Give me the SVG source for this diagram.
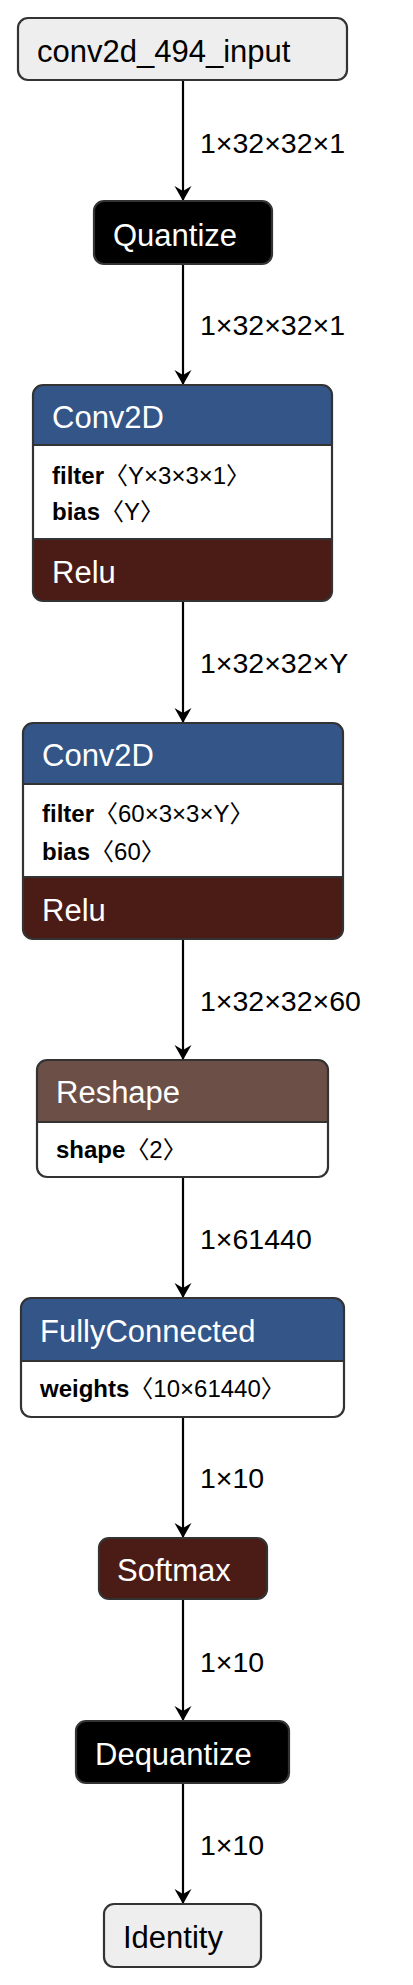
<svg xmlns="http://www.w3.org/2000/svg" width="413" height="1985" viewBox="0 0 413 1985">
<style>
text{font-family:"Liberation Sans","Noto Sans CJK SC",sans-serif}
.t{font-size:31px;fill:#fff}
.tk{font-size:31px;fill:#000}
.a{font-size:24px;fill:#000}
.a tspan.n{font-weight:bold}
.l{font-size:28.5px;fill:#000}
.o{fill:none;stroke:#333;stroke-width:2.2}
.s{stroke:#333;stroke-width:2.2}
.e{stroke:#000;stroke-width:2.2;fill:none;marker-end:url(#arr)}
.hl{fill:#335588}
.ac{fill:#4b1b16}
.sh{fill:#6c4f47}
</style>
<defs>
<marker id="arr" markerUnits="userSpaceOnUse" markerWidth="16" markerHeight="18" refX="15" refY="9" orient="auto">
<path d="M0,0.5 L15,9 L0,17.5 L5,9 Z" fill="#000"/>
</marker>
</defs>
<g id="edges">
<path class="e" d="M183,80 V201"/>
<text class="l" x="200" y="153">1×32×32×1</text>
<path class="e" d="M183,264 V385"/>
<text class="l" x="200" y="335">1×32×32×1</text>
<path class="e" d="M183,601 V723"/>
<text class="l" x="200" y="673">1×32×32×Y</text>
<path class="e" d="M183,939 V1060"/>
<text class="l" x="200" y="1011">1×32×32×60</text>
<path class="e" d="M183,1177 V1298"/>
<text class="l" x="200" y="1249">1×61440</text>
<path class="e" d="M183,1417 V1538"/>
<text class="l" x="200" y="1488">1×10</text>
<path class="e" d="M183,1599 V1721"/>
<text class="l" x="200" y="1672">1×10</text>
<path class="e" d="M183,1783 V1904"/>
<text class="l" x="200" y="1855">1×10</text>
</g>
<g id="node-input">
<rect x="18" y="18" width="329" height="62" rx="10" fill="#eee" class="s"/>
<text class="tk" x="37" y="62">conv2d_494_input</text>
</g>
<g id="node-quantize">
<rect x="94" y="201" width="178" height="63" rx="10" fill="#000" class="s"/>
<text class="t" x="113" y="246">Quantize</text>
</g>
<g id="node-conv2d-1">
<path class="hl" d="M33,445 V395 A10,10 0 0 1 43,385 H322 A10,10 0 0 1 332,395 V445 Z"/>
<rect x="33" y="445" width="299" height="94" fill="#fff"/>
<path class="ac" d="M33,539 H332 V591 A10,10 0 0 1 322,601 H43 A10,10 0 0 1 33,591 Z"/>
<path class="s" d="M33,445 H332 M33,539 H332"/>
<rect class="o" x="33" y="385" width="299" height="216" rx="10"/>
<text class="t" x="52" y="428">Conv2D</text>
<text class="a" x="52" y="484"><tspan class="n">filter</tspan>〈Y×3×3×1〉</text>
<text class="a" x="52" y="520"><tspan class="n">bias</tspan>〈Y〉</text>
<text class="t" x="52" y="583">Relu</text>
</g>
<g id="node-conv2d-2">
<path class="hl" d="M23,784 V733 A10,10 0 0 1 33,723 H333 A10,10 0 0 1 343,733 V784 Z"/>
<rect x="23" y="784" width="320" height="93" fill="#fff"/>
<path class="ac" d="M23,877 H343 V929 A10,10 0 0 1 333,939 H33 A10,10 0 0 1 23,929 Z"/>
<path class="s" d="M23,784 H343 M23,877 H343"/>
<rect class="o" x="23" y="723" width="320" height="216" rx="10"/>
<text class="t" x="42" y="766">Conv2D</text>
<text class="a" x="42" y="822"><tspan class="n">filter</tspan>〈60×3×3×Y〉</text>
<text class="a" x="42" y="860"><tspan class="n">bias</tspan>〈60〉</text>
<text class="t" x="42" y="921">Relu</text>
</g>
<g id="node-reshape">
<path class="sh" d="M37,1122 V1070 A10,10 0 0 1 47,1060 H318 A10,10 0 0 1 328,1070 V1122 Z"/>
<path fill="#fff" d="M37,1122 H328 V1167 A10,10 0 0 1 318,1177 H47 A10,10 0 0 1 37,1167 Z"/>
<path class="s" d="M37,1122 H328"/>
<rect class="o" x="37" y="1060" width="291" height="117" rx="10"/>
<text class="t" x="56" y="1103">Reshape</text>
<text class="a" x="56" y="1158"><tspan class="n">shape</tspan>〈2〉</text>
</g>
<g id="node-fullyconnected">
<path class="hl" d="M21,1361 V1308 A10,10 0 0 1 31,1298 H334 A10,10 0 0 1 344,1308 V1361 Z"/>
<path fill="#fff" d="M21,1361 H344 V1407 A10,10 0 0 1 334,1417 H31 A10,10 0 0 1 21,1407 Z"/>
<path class="s" d="M21,1361 H344"/>
<rect class="o" x="21" y="1298" width="323" height="119" rx="10"/>
<text class="t" x="40" y="1342">FullyConnected</text>
<text class="a" x="40" y="1397"><tspan class="n">weights</tspan>〈10×61440〉</text>
</g>
<g id="node-softmax">
<rect x="99" y="1538" width="168" height="61" rx="10" class="ac s"/>
<text class="t" x="117" y="1581">Softmax</text>
</g>
<g id="node-dequantize">
<rect x="76" y="1721" width="213" height="62" rx="10" fill="#000" class="s"/>
<text class="t" x="95" y="1765">Dequantize</text>
</g>
<g id="node-identity">
<rect x="104" y="1904" width="157" height="63" rx="10" fill="#eee" class="s"/>
<text class="tk" x="123" y="1948">Identity</text>
</g>
</svg>
